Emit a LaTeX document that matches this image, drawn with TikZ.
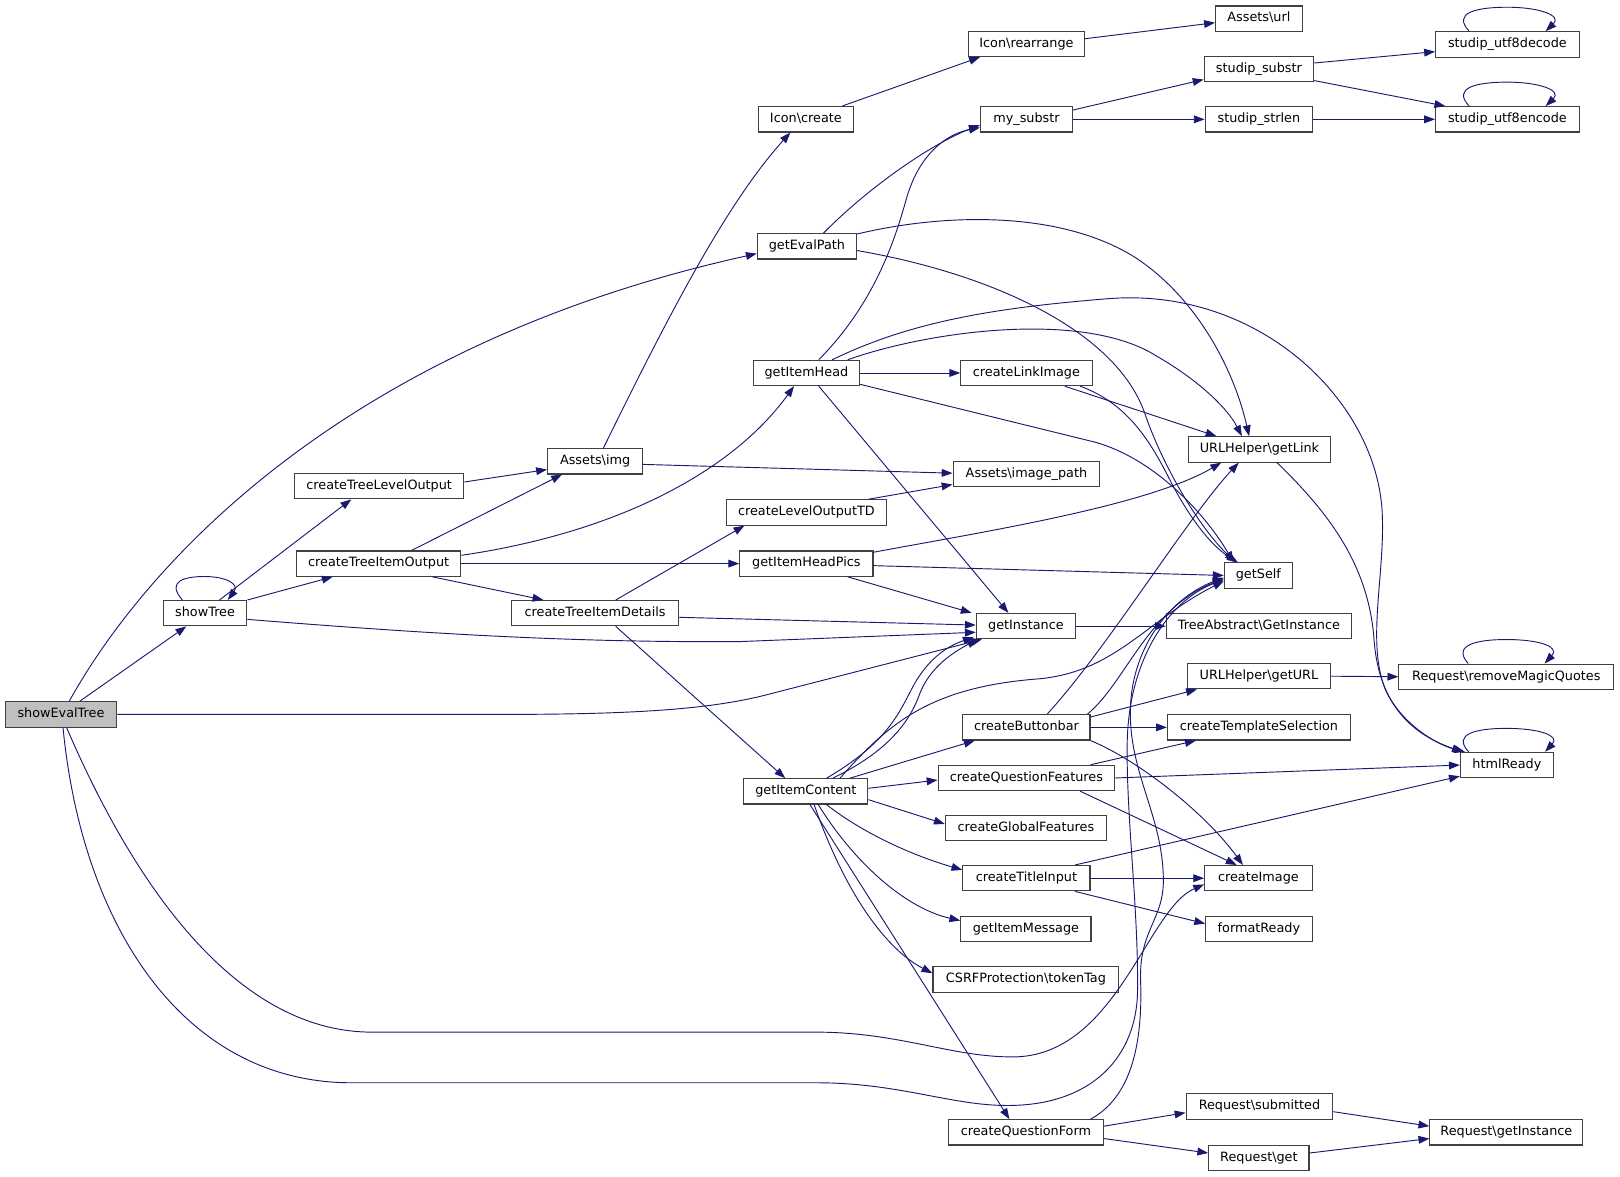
\documentclass[tikz,border=0pt]{standalone}
\usepackage{fontspec}
\setmainfont{DejaVu Sans}
\usetikzlibrary{arrows.meta,calc}
\definecolor{edgeblue}{HTML}{191970}
\definecolor{boxline}{HTML}{404040}
\definecolor{rootfill}{HTML}{BFBFBF}
\begin{document}
\begin{tikzpicture}[x=1pt,y=-1pt,
  box/.style={draw=boxline,line width=1.1pt,fill=white,rectangle,inner sep=0pt,
    minimum height=24.5pt,text height=9pt,text depth=2.5pt,
    font=\fontsize{12.4pt}{14pt}\selectfont},
  conn/.style={draw=edgeblue,line width=0.9pt,-{Triangle[length=10.5pt,width=7.5pt]}}]
\useasboundingbox (0,0) rectangle (1568,1139);

% ---------- nodes ----------
\node[box,minimum width=108pt,fill=rootfill] (showEvalTree) at (59,691.5) {showEvalTree};
\node[box,minimum width=81pt] (showTree) at (198.5,593.5) {showTree};
\node[box,minimum width=164pt] (treeLevel) at (367,470.5) {createTreeLevelOutput};
\node[box,minimum width=159pt] (treeItem) at (366.5,545.5) {createTreeItemOutput};
\node[box,minimum width=92pt] (assetsImg) at (576,446.5) {Assets\textbackslash img};
\node[box,minimum width=162pt] (treeDetails) at (576,593.5) {createTreeItemDetails};
\node[box,minimum width=155pt] (levelTD) at (780.5,496) {createLevelOutputTD};
\node[box,minimum width=129pt] (headPics) at (780.5,545.5) {getItemHeadPics};
\node[box,minimum width=103pt] (itemHead) at (780.5,361) {getItemHead};
\node[box,minimum width=96pt] (evalPath) at (781,238.5) {getEvalPath};
\node[box,minimum width=92pt] (iconCreate) at (780,115.5) {Icon\textbackslash create};
\node[box,minimum width=120pt] (itemContent) at (780,766) {getItemContent};
\node[box,minimum width=112pt] (iconRearrange) at (993.5,42.5) {Icon\textbackslash rearrange};
\node[box,minimum width=89pt] (mySubstr) at (993.5,115.5) {my\_substr};
\node[box,minimum width=127pt] (linkImage) at (993.5,361) {createLinkImage};
\node[box,minimum width=142pt] (imagePath) at (993.5,459) {Assets\textbackslash image\_path};
\node[box,minimum width=96pt] (getInstance) at (993,606) {getInstance};
\node[box,minimum width=123pt] (buttonbar) at (993.5,704) {createButtonbar};
\node[box,minimum width=171pt] (questFeat) at (993.5,753) {createQuestionFeatures};
\node[box,minimum width=156pt] (globalFeat) at (993,801.5) {createGlobalFeatures};
\node[box,minimum width=123pt] (titleInput) at (993.5,850) {createTitleInput};
\node[box,minimum width=126pt] (itemMessage) at (993,899) {getItemMessage};
\node[box,minimum width=180pt] (tokenTag) at (993,948) {CSRFProtection\textbackslash tokenTag};
\node[box,minimum width=150pt] (questForm) at (993,1096) {createQuestionForm};
\node[box,minimum width=84pt] (assetsUrl) at (1218.5,18) {Assets\textbackslash url};
\node[box,minimum width=106pt] (studipSubstr) at (1218.5,67) {studip\_substr};
\node[box,minimum width=104pt] (studipStrlen) at (1218.5,115.5) {studip\_strlen};
\node[box,minimum width=138pt] (getLink) at (1219,435) {URLHelper\textbackslash getLink};
\node[box,minimum width=66pt] (getSelf) at (1218,557) {getSelf};
\node[box,minimum width=179pt] (treeAbstract) at (1218.5,606) {TreeAbstract\textbackslash GetInstance};
\node[box,minimum width=139pt] (getURL) at (1218.5,654.5) {URLHelper\textbackslash getURL};
\node[box,minimum width=177pt] (templSel) at (1218.5,704) {createTemplateSelection};
\node[box,minimum width=104pt] (createImage) at (1218,850) {createImage};
\node[box,minimum width=103pt] (formatReady) at (1218.5,899) {formatReady};
\node[box,minimum width=142pt] (submitted) at (1219,1071) {Request\textbackslash submitted};
\node[box,minimum width=97pt] (reqGet) at (1218.5,1121) {Request\textbackslash get};
\node[box,minimum width=139pt] (utfDecode) at (1459,43) {studip\_utf8decode};
\node[box,minimum width=139pt] (utfEncode) at (1459,115.5) {studip\_utf8encode};
\node[box,minimum width=208pt] (rmq) at (1458,655) {Request\textbackslash removeMagicQuotes};
\node[box,minimum width=90pt] (htmlReady) at (1458.5,740.5) {htmlReady};
\node[box,minimum width=148pt] (reqGetInstance) at (1458,1096) {Request\textbackslash getInstance};

% ---------- edges ----------
% showEvalTree
\draw[conn] ($(showEvalTree.north)+(8,0)$) .. controls (150,530) and (350,330) .. ($(evalPath.west)+(0,7)$);
\draw[conn] (showEvalTree) -- (showTree);
\draw[conn] (showEvalTree.east) -- (480,691.5) .. controls (600,691.5) and (680,688) .. (740,673) -- ($(getInstance.south west)+(6,0)$);
\draw[conn] ($(showEvalTree.south)+(5.5,0)$) .. controls (140,880) and (240,999) .. (360,999) -- (790,999) .. controls (870,999) and (920,1023) .. (980,1023) .. controls (1080,1023) and (1110,880) .. ($(createImage.west)+(0,6)$);
\draw[conn] ($(showEvalTree.south)+(2,0)$) .. controls (80,900) and (180,1048) .. (340,1048) -- (790,1048) .. controls (870,1048) and (920,1070) .. (975,1070) .. controls (1060,1070) and (1100,1020) .. (1101,960) .. controls (1102,880) and (1090,790) .. (1091,720) .. controls (1092,640) and (1130,582) .. ($(getSelf.west)+(0,4)$);

% showTree
\draw[conn] ($(showTree.north)+(-22,0)$) .. controls (160,562) and (180,558) .. (198,558) .. controls (218,558) and (232,565) .. ($(showTree.north)+(22,0)$);
\draw[conn] ($(showTree.north)+(14,0)$) -- ($(treeLevel.south)+(-27,0)$);
\draw[conn] (showTree.north east) -- ($(treeItem.south)+(-44.5,0)$);
\draw[conn] ($(showTree.east)+(0,6)$) .. controls (420,614) and (560,622) .. (716,621) -- ($(getInstance.west)+(0,6)$);

% createTreeLevelOutput / createTreeItemOutput
\draw[conn] ($(treeLevel.east)+(0,-4)$) -- ($(assetsImg.west)+(0,8)$);
\draw[conn] ($(treeItem.north)+(32,0)$) -- ($(assetsImg.south)+(-32,0)$);
\draw[conn] ($(treeItem.east)+(0,-8)$) .. controls (600,515) and (710,455) .. ($(itemHead.south)+(-12,0)$);
\draw[conn] (treeItem.east) -- (headPics.west);
\draw[conn] ($(treeItem.south)+(52,0)$) -- ($(treeDetails.north)+(-50,0)$);

% Assets\img
\draw[conn] ($(assetsImg.north)+(8,0)$) .. controls (640,320) and (700,200) .. ($(iconCreate.south)+(-15,0)$);
\draw[conn] ($(assetsImg.east)+(0,3)$) -- ($(imagePath.west)+(0,-1)$);

% Icon
\draw[conn] ($(iconCreate.north)+(35,0)$) -- ($(iconRearrange.south)+(-45,0)$);
\draw[conn] ($(iconRearrange.east)+(0,-5)$) -- ($(assetsUrl.west)+(0,4)$);

% getEvalPath
\draw[conn] ($(evalPath.north)+(16,0)$) .. controls (840,182) and (900,140) .. ($(mySubstr.west)+(0,5.5)$);
\draw[conn] ($(evalPath.east)+(0,-12)$) .. controls (920,205) and (1030,205) .. (1100,250) .. controls (1160,290) and (1195,360) .. ($(getLink.north)+(-10,0)$);
\draw[conn] ($(evalPath.east)+(0,4)$) .. controls (960,265) and (1080,320) .. (1108,400) .. controls (1125,450) and (1160,510) .. ($(getSelf.north)+(-22,0)$);

% getItemHead
\draw[conn] ($(itemHead.north)+(12,0)$) .. controls (850,290) and (868,225) .. (878,190) .. controls (890,150) and (915,130) .. ($(mySubstr.west)+(0,8)$);
\draw[conn] ($(itemHead.north)+(25,0)$) .. controls (880,312) and (960,298) .. (1074,289) .. controls (1220,278) and (1335,390) .. (1338,500) .. controls (1340,560) and (1322,625) .. (1342,670) .. controls (1360,705) and (1395,722) .. ($(htmlReady.north west)+(5,0)$);
\draw[conn] ($(itemHead.north)+(40,0)$) .. controls (900,320) and (1050,300) .. (1120,345) .. controls (1160,368) and (1188,395) .. ($(getLink.north)+(-17,0)$);
\draw[conn] (itemHead.east) -- (linkImage.west);
\draw[conn] ($(itemHead.east)+(0,11)$) -- (1060,428) .. controls (1120,445) and (1168,500) .. ($(getSelf.north)+(-24,0)$);
\draw[conn] ($(itemHead.south)+(12,0)$) -- ($(getInstance.north)+(-17,0)$);

% createLinkImage
\draw[conn] ($(linkImage.south)+(37,0)$) -- ($(getLink.north west)+(28,0)$);
\draw[conn] ($(linkImage.south)+(52,0)$) .. controls (1090,390) and (1112,425) .. (1130,460) .. controls (1150,500) and (1172,528) .. ($(getSelf.north)+(-20,0)$);

% createLevelOutputTD / createTreeItemDetails
\draw[conn] ($(levelTD.north east)+(-18,0)$) -- ($(imagePath.west)+(0,10)$);
\draw[conn] ($(treeDetails.north)+(20,0)$) -- ($(levelTD.south)+(-60,0)$);
\draw[conn] ($(treeDetails.east)+(0,4)$) -- ($(getInstance.west)+(0,-1)$);
\draw[conn] ($(treeDetails.south)+(20,0)$) -- ($(itemContent.north)+(-20,0)$);

% getItemHeadPics
\draw[conn] ($(headPics.east)+(0,-11)$) .. controls (950,515) and (1110,490) .. ($(getLink.south)+(-37,0)$);
\draw[conn] ($(headPics.east)+(0,2)$) -- (getSelf.west);
\draw[conn] ($(headPics.south)+(40,0)$) -- ($(getInstance.north west)+(-4,0)$);

% my_substr and studip
\draw[conn] ($(mySubstr.east)+(0,-9)$) -- ($(studipSubstr.west)+(0,10)$);
\draw[conn] (mySubstr.east) -- (studipStrlen.west);
\draw[conn] ($(studipSubstr.east)+(0,-6)$) -- ($(utfDecode.west)+(0,7)$);
\draw[conn] ($(studipSubstr.east)+(0,11)$) -- ($(utfEncode.north west)+(10,0)$);
\draw[conn] (studipStrlen.east) -- (utfEncode.west);
\draw[conn] ($(utfDecode.north)+(-37,0)$) .. controls (1405,12) and (1430,7) .. (1459,7) .. controls (1490,7) and (1512,15) .. ($(utfDecode.north)+(37,0)$);
\draw[conn] ($(utfEncode.north)+(-37,0)$) .. controls (1405,84.5) and (1430,79.5) .. (1459,79.5) .. controls (1490,79.5) and (1512,87.5) .. ($(utfEncode.north)+(37,0)$);

% URLHelper\getLink
\draw[conn] ($(getLink.south)+(17,0)$) .. controls (1290,500) and (1325,550) .. (1330,620) .. controls (1335,685) and (1370,712) .. ($(htmlReady.north west)+(3,0)$);
\draw[conn] ($(htmlReady.north)+(-37,0)$) .. controls (1405,710) and (1430,705) .. (1458,705) .. controls (1490,705) and (1510,712) .. ($(htmlReady.north)+(37,0)$);

% getInstance / getURL
\draw[conn] (getInstance.east) -- (treeAbstract.west);
\draw[conn] (getURL.east) -- (rmq.west);
\draw[conn] ($(rmq.north)+(-37,0)$) .. controls (1405,624) and (1430,619) .. (1458,619) .. controls (1490,619) and (1510,626) .. ($(rmq.north)+(37,0)$);

% createButtonbar
\draw[conn] ($(buttonbar.north)+(20,0)$) .. controls (1070,630) and (1150,500) .. ($(getLink.south)+(-20,0)$);
\draw[conn] ($(buttonbar.north east)+(-3,0)$) .. controls (1090,660) and (1110,590) .. ($(getSelf.west)+(0,3)$);
\draw[conn] ($(buttonbar.east)+(0,-10)$) -- ($(getURL.south west)+(10,0)$);
\draw[conn] (buttonbar.east) -- (templSel.west);
\draw[conn] (buttonbar.south east) .. controls (1100,735) and (1165,785) .. ($(createImage.north)+(-15,0)$);

% createQuestionFeatures
\draw[conn] ($(questFeat.north east)+(-24,0)$) -- ($(templSel.south west)+(28,0)$);
\draw[conn] (questFeat.east) -- (htmlReady.west);
\draw[conn] ($(questFeat.south)+(52,0)$) -- ($(createImage.north)+(-21,0)$);

% getItemContent
\draw[conn] ($(itemContent.north)+(20,0)$) .. controls (860,718) and (870,690) .. (885,662) .. controls (900,636) and (918,625) .. ($(getInstance.south west)+(-2,-2)$);
\draw[conn] ($(itemContent.north)+(26,0)$) .. controls (858,728) and (880,700) .. (890,672) .. controls (900,645) and (925,630) .. ($(getInstance.south west)+(2,0)$);
\draw[conn] ($(itemContent.north)+(33,0)$) .. controls (860,700) and (900,665) .. (1006,657) .. controls (1080,650) and (1110,600) .. ($(getSelf.west)+(0,5.5)$);
\draw[conn] ($(itemContent.north east)+(-18,0)$) -- ($(buttonbar.south west)+(12,0)$);
\draw[conn] ($(itemContent.east)+(0,-3)$) -- ($(questFeat.west)+(0,2)$);
\draw[conn] ($(itemContent.east)+(0,8)$) -- ($(globalFeat.west)+(0,-4)$);
\draw[conn] ($(itemContent.south)+(20,0)$) .. controls (840,810) and (890,830) .. ($(titleInput.west)+(0,-8)$);
\draw[conn] ($(itemContent.south)+(12,0)$) .. controls (830,840) and (880,880) .. ($(itemMessage.west)+(0,-8)$);
\draw[conn] ($(itemContent.south)+(8,0)$) .. controls (820,870) and (860,920) .. ($(tokenTag.west)+(0,-6)$);
\draw[conn] ($(itemContent.south)+(4,0)$) -- ($(questForm.north)+(-16,0)$);

% createTitleInput
\draw[conn] ($(titleInput.north east)+(-15,0)$) -- ($(htmlReady.south west)+(0,-2)$);
\draw[conn] (titleInput.east) -- (createImage.west);
\draw[conn] ($(titleInput.south east)+(-15,0)$) -- ($(formatReady.west)+(0,-5)$);

% createQuestionForm
\draw[conn] ($(questForm.north east)+(-13,0)$) .. controls (1095,1062) and (1106,1010) .. (1104,950) .. controls (1102,900) and (1127,890) .. (1126,850) .. controls (1125,790) and (1094,750) .. (1094,690) .. controls (1094,630) and (1130,580) .. ($(getSelf.west)+(0,2)$);
\draw[conn] ($(questForm.east)+(0,-6)$) -- ($(submitted.west)+(0,6)$);
\draw[conn] ($(questForm.east)+(0,6)$) -- ($(reqGet.west)+(0,-5)$);
\draw[conn] ($(submitted.east)+(0,5)$) -- ($(reqGetInstance.west)+(0,-6)$);
\draw[conn] ($(reqGet.east)+(0,-5)$) -- ($(reqGetInstance.west)+(0,6)$);
\end{tikzpicture}
\end{document}
